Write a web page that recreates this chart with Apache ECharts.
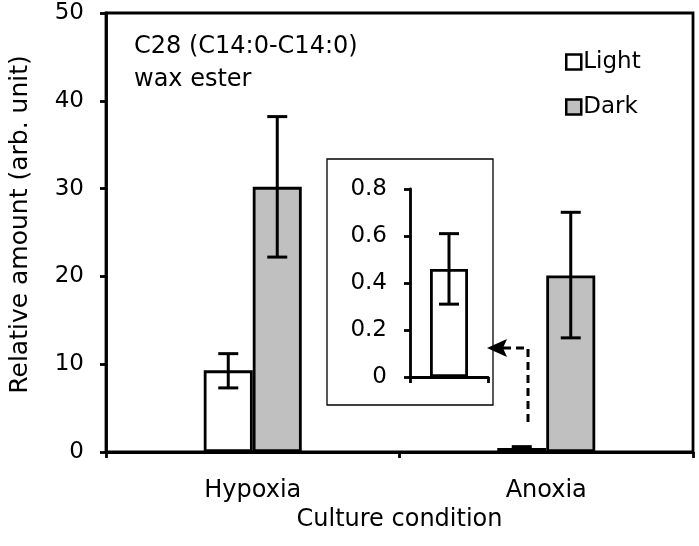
<!DOCTYPE html>
<html><head><meta charset="utf-8">
<script src="https://cdn.jsdelivr.net/npm/echarts@6/dist/echarts.min.js"></script>
<style>html,body{margin:0;padding:0;background:#fff}#c{width:699px;height:546px}</style>
</head><body><div id="c"></div>
<script>
var categories = ['Hypoxia', 'Anoxia'];
var lightVals = [9.3, 0.46];
var lightLow = [7.3, 0.31];
var lightHigh = [11.2, 0.61];
var darkVals = [30.2, 20.1];
var darkLow = [22.2, 13.0];
var darkHigh = [38.2, 27.3];
var yTicksMain = [0, 10, 20, 30, 40, 50];
var yTicksInset = [0, 0.2, 0.4, 0.6, 0.8];

var FONT = '"DejaVu Sans", sans-serif';
var FS = 23;
var BW = 49, BW_IN = 38;
var chart = echarts.init(document.getElementById('c'));

function errItem(offset, capW) {
  return function (params, api) {
    var i = api.value(0);
    var lo = api.coord([i, api.value(1)]);
    var hi = api.coord([i, api.value(2)]);
    var x = lo[0] + offset;
    var st = {stroke: '#000', lineWidth: 3};
    return {type: 'group', children: [
      {type: 'line', shape: {x1: x, y1: lo[1], x2: x, y2: hi[1]}, style: st},
      {type: 'line', shape: {x1: x - capW/2, y1: lo[1], x2: x + capW/2, y2: lo[1]}, style: st},
      {type: 'line', shape: {x1: x - capW/2, y1: hi[1], x2: x + capW/2, y2: hi[1]}, style: st}
    ]};
  };
}
function errData(lows, highs, idx) {
  return idx.map(function (i) { return [i, lows[i], highs[i]]; });
}

var axisLine = {show: true, lineStyle: {color: '#000', width: 2.8}};
var axisTick = {show: true, inside: false, length: 6, lineStyle: {color: '#000', width: 2.8}};
var txt = {fontFamily: FONT, fontSize: FS, color: '#000'};
var txtX = {fontFamily: FONT, fontSize: 24, color: '#000'};
var barBorder = 2.8;

chart.setOption({
  animation: false,
  textStyle: {fontFamily: FONT, color: '#000'},
  title: {text: 'C28 (C14:0-C14:0)\nwax ester', left: 134, top: 30, padding: 0,
    textStyle: {fontFamily: FONT, fontSize: 24, fontWeight: 'normal', color: '#000', lineHeight: 33}},
  legend: {orient: 'vertical', left: 560, top: 45, itemWidth: 15, itemHeight: 15, itemGap: 21,
    textStyle: {fontFamily: FONT, fontSize: FS, color: '#000', lineHeight: 24, padding: [0, 0, 0, -3]},
    data: [
      {name: 'Light', icon: 'rect', itemStyle: {color: '#fff', borderColor: '#000', borderWidth: 2.5}},
      {name: 'Dark', icon: 'rect', itemStyle: {color: '#c0c0c0', borderColor: '#000', borderWidth: 2.5}}
    ]},
  grid: [
    {left: 106, right: 6, top: 13, bottom: 94, show: true, borderColor: '#000', borderWidth: 2.8,
      backgroundColor: 'transparent', containLabel: false, outerBoundsMode: 'none'},
    {left: 410, width: 78, top: 189, height: 188, containLabel: false, outerBoundsMode: 'none'}
  ],
  xAxis: [
    {type: 'category', gridIndex: 0, data: categories, axisLine: axisLine, axisTick: axisTick,
      axisLabel: Object.assign({margin: 27}, txtX),
      name: 'Culture condition', nameLocation: 'middle', nameGap: 46, nameTextStyle: txtX},
    {type: 'category', gridIndex: 1, data: [categories[1]], axisLine: axisLine, axisTick: axisTick,
      axisLabel: {show: false}}
  ],
  yAxis: [
    {type: 'value', gridIndex: 0, min: yTicksMain[0], max: yTicksMain[yTicksMain.length-1], interval: 10,
      axisLine: axisLine, axisTick: axisTick, splitLine: {show: false},
      axisLabel: Object.assign({margin: 22}, txt),
      name: 'Relative amount (arb. unit)', nameLocation: 'middle', nameGap: 73, nameRotate: 90,
      nameTextStyle: {fontFamily: FONT, fontSize: 25, color: '#000', padding: [0, 0, 0, 16]}},
    {type: 'value', gridIndex: 1, min: yTicksInset[0], max: yTicksInset[yTicksInset.length-1], interval: 0.2,
      axisLine: axisLine, axisTick: axisTick, splitLine: {show: false},
      axisLabel: Object.assign({margin: 23, formatter: function (v) { return v === 0 ? '0' : v.toFixed(1); }}, txt)}
  ],
  series: [
    {name: 'Light', type: 'bar', xAxisIndex: 0, yAxisIndex: 0, data: lightVals, barWidth: BW, barGap: '0%',
      itemStyle: {color: '#fff', borderColor: '#000', borderWidth: barBorder}},
    {name: 'Dark', type: 'bar', xAxisIndex: 0, yAxisIndex: 0, data: darkVals, barWidth: BW, barGap: '0%',
      itemStyle: {color: '#c0c0c0', borderColor: '#000', borderWidth: barBorder}},
    {type: 'custom', xAxisIndex: 0, yAxisIndex: 0, renderItem: errItem(-BW/2, 20),
      data: errData(lightLow, lightHigh, [0, 1]), z: 5},
    {type: 'custom', xAxisIndex: 0, yAxisIndex: 0, renderItem: errItem(BW/2, 20),
      data: errData(darkLow, darkHigh, [0, 1]), z: 5},
    {type: 'bar', xAxisIndex: 1, yAxisIndex: 1, data: [lightVals[1]], barWidth: BW_IN,
      itemStyle: {color: '#fff', borderColor: '#000', borderWidth: barBorder}},
    {type: 'custom', xAxisIndex: 1, yAxisIndex: 1, renderItem: errItem(0, 20),
      data: [[0, lightLow[1], lightHigh[1]]], z: 5}
  ],
  graphic: [
    {type: 'rect', shape: {x: 327, y: 159, width: 166, height: 246}, style: {fill: 'none', stroke: '#000', lineWidth: 1.3}, z: 10},
    {type: 'polyline', shape: {points: [[528, 422], [528, 348], [500, 348]]},
      style: {fill: 'none', stroke: '#000', lineWidth: 3, lineDash: [8, 5]}, z: 10},
    {type: 'polygon', shape: {points: [[487, 348], [507, 339], [503, 348], [507, 357]]}, style: {fill: '#000'}, z: 10}
  ]
});
</script></body></html>
